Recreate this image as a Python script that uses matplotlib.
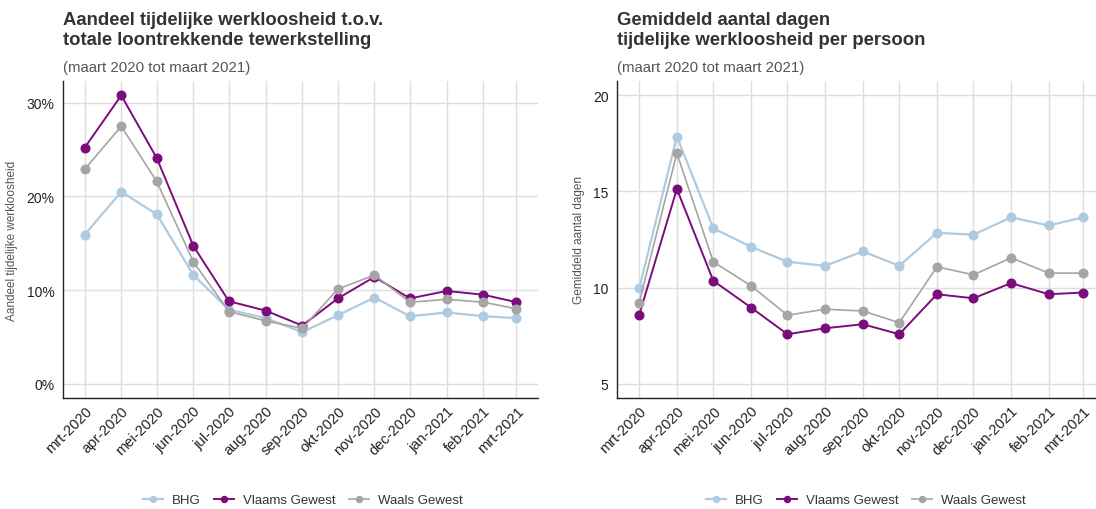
import numpy as np
import pandas as pd
import matplotlib
matplotlib.use("Agg")
import matplotlib.pyplot as plt
from matplotlib.ticker import FuncFormatter

plt.rcParams["font.family"] = ["Liberation Sans", "DejaVu Sans"]

months = pd.date_range("2020-03-01", "2021-03-01", freq="MS")
month_labels = ["mrt-2020", "apr-2020", "mei-2020", "jun-2020", "jul-2020", "aug-2020",
                "sep-2020", "okt-2020", "nov-2020", "dec-2020", "jan-2021", "feb-2021",
                "mrt-2021"]
regions = ["BHG", "Vlaams Gewest", "Waals Gewest"]

# share of temporary unemployment (%)
share_bhg = [15.9, 20.5, 18.1, 11.6, 7.9, 7.0, 5.5, 7.3, 9.2, 7.2, 7.6, 7.2, 7.0]
share_vl = [25.2, 30.8, 24.1, 14.7, 8.8, 7.8, 6.2, 9.1, 11.4, 9.1, 9.9, 9.5, 8.7]
share_wa = [22.9, 27.5, 21.6, 13.0, 7.7, 6.7, 5.9, 10.1, 11.6, 8.7, 9.0, 8.7, 8.0]

# average number of days per person
days_bhg = [9.95, 17.86, 13.08, 12.12, 11.34, 11.13, 11.88, 11.13, 12.85, 12.75, 13.65, 13.23, 13.65]
days_vl = [8.57, 15.13, 10.35, 8.96, 7.57, 7.88, 8.09, 7.57, 9.65, 9.44, 10.23, 9.65, 9.74]
days_wa = [9.22, 16.99, 11.34, 10.09, 8.56, 8.87, 8.78, 8.17, 11.08, 10.66, 11.55, 10.75, 10.75]

COLORS = {"BHG": "#aecbe0", "Vlaams Gewest": "#7b0c7b", "Waals Gewest": "#a5a5a5"}
LW = {"BHG": 1.6, "Vlaams Gewest": 1.4, "Waals Gewest": 1.2}
TXT = "#333333"
GRID = "#dedede"

W, H = 1096, 510
fig = plt.figure(figsize=(W / 100, H / 100), dpi=100)


def px(x0, y0, x1, y1):
    return [x0 / W, 1 - y1 / H, (x1 - x0) / W, (y1 - y0) / H]


def panel(rect, series, ylim, yticks, yfmt, ylabel, title, subtitle, legend_x):
    ax = fig.add_axes(rect)
    for name, vals in zip(regions, series):
        ax.plot(months, vals, color=COLORS[name], lw=LW[name], marker="o", ms=6.2,
                mec=COLORS[name], label=name, zorder=3)
    span = months[-1] - months[0]
    ax.set_xlim(months[0] - span * 0.05, months[-1] + span * 0.05)
    ax.set_ylim(*ylim)
    ax.set_xticks(months)
    ax.set_xticklabels(month_labels, rotation=45, ha="right", rotation_mode="anchor",
                       fontsize=10.5, color="#222222")
    ax.set_yticks(yticks)
    ax.yaxis.set_major_formatter(FuncFormatter(yfmt))
    ax.tick_params(axis="y", labelsize=10, labelcolor="#222222", length=0, pad=6)
    ax.tick_params(axis="x", length=0, pad=4)
    ax.grid(True, color=GRID, lw=1.0)
    ax.set_axisbelow(True)
    for s in ("top", "right"):
        ax.spines[s].set_visible(False)
    for s in ("left", "bottom"):
        ax.spines[s].set_color("#222222")
        ax.spines[s].set_linewidth(1.0)
    ax.set_ylabel(ylabel, fontsize=8.5, color="#555555", labelpad=6)
    x0 = rect[0]
    fig.text(x0, 1 - 12 / H, title, fontsize=13.3, fontweight="bold", color=TXT,
             va="top", ha="left", linespacing=1.25)
    fig.text(x0, 1 - 61 / H, subtitle, fontsize=10.8, color="#555555", va="top", ha="left")
    handles, labels = ax.get_legend_handles_labels()
    fig.legend(handles, labels, loc="center", bbox_to_anchor=(legend_x, 1 - 501 / H),
               ncol=3, frameon=False, fontsize=9.5, handlelength=1.5, columnspacing=1.0,
               handletextpad=0.7, markerscale=0.7, labelcolor=TXT)
    return ax


panel(px(63, 82, 538, 399), [share_bhg, share_vl, share_wa], (-1.54, 32.34),
      [0, 10, 20, 30], lambda v, p: f"{v:.0f}%", "Aandeel tijdelijke werkloosheid",
      "Aandeel tijdelijke werkloosheid t.o.v.\ntotale loontrekkende tewerkstelling",
      "(maart 2020 tot maart 2021)", 303 / W)

panel(px(617, 82, 1105, 399), [days_bhg, days_vl, days_wa], (4.25, 20.75),
      [5, 10, 15, 20], lambda v, p: f"{v:.0f}", "Gemiddeld aantal dagen",
      "Gemiddeld aantal dagen\ntijdelijke werkloosheid per persoon",
      "(maart 2020 tot maart 2021)", 866 / W)

fig.savefig("out.png", dpi=100, facecolor="white")
